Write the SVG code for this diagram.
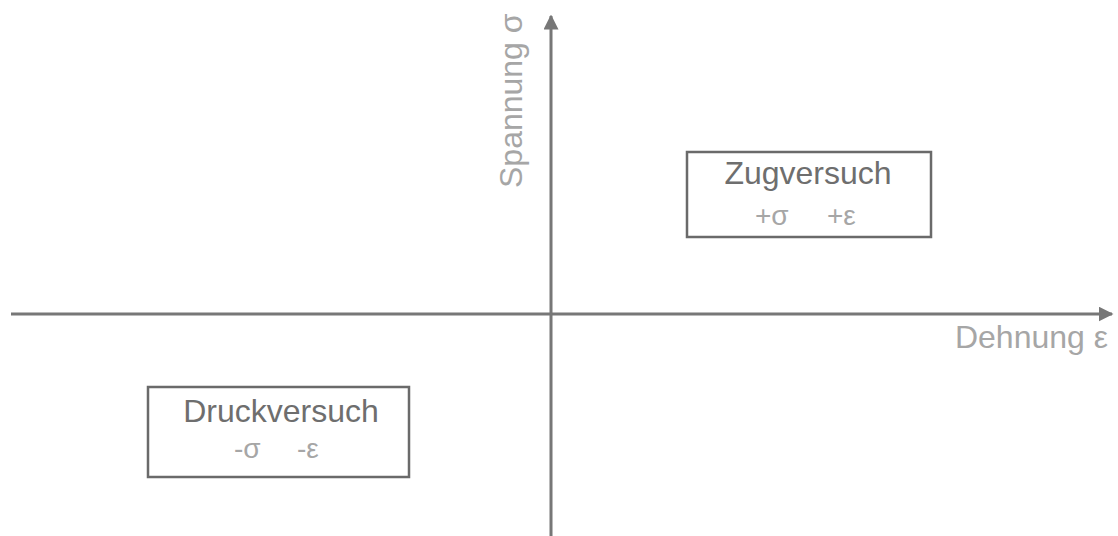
<svg xmlns="http://www.w3.org/2000/svg" width="1118" height="536" viewBox="0 0 1118 536">
<style>
.axis{stroke:#777;stroke-width:3;fill:none}
.box{fill:#fff;stroke:#6a6a6a;stroke-width:2.5}
.title{font-family:"Liberation Sans",Arial,sans-serif;font-size:32px;fill:#6e6e6e;text-anchor:middle}
.sub{font-family:"Liberation Sans",Arial,sans-serif;font-size:28px;fill:#a6a6a6}
.lbl{font-family:"Liberation Sans",Arial,sans-serif;font-size:32px;fill:#a6a6a6}
</style>
<defs>
<marker id="ah" viewBox="0 0 10 10" refX="9" refY="5" markerWidth="5" markerHeight="5" orient="auto" markerUnits="strokeWidth">
<path d="M0,0 L10,5 L0,10 z" fill="#777"/>
</marker>
</defs>
<g id="connectors">
<line class="axis" x1="11" y1="314" x2="1112" y2="314" marker-end="url(#ah)"/>
<line class="axis" x1="551" y1="536" x2="551" y2="16" marker-end="url(#ah)"/>
</g>
<g id="label-x"><text class="lbl" x="1108" y="348" text-anchor="end">Dehnung ε</text></g>
<g id="label-y"><text class="lbl" transform="translate(522,188) rotate(-90)">Spannung σ</text></g>
<g id="zug">
<rect class="box" x="687" y="152" width="244" height="85"/>
<text class="title" x="808" y="184">Zugversuch</text>
<text class="sub" x="755" y="225">+σ</text>
<text class="sub" x="827" y="225">+ε</text>
</g>
<g id="druck">
<rect class="box" x="148" y="387" width="261" height="90"/>
<text class="title" x="281" y="422">Druckversuch</text>
<text class="sub" x="234" y="458">-σ</text>
<text class="sub" x="297" y="458">-ε</text>
</g>
</svg>
